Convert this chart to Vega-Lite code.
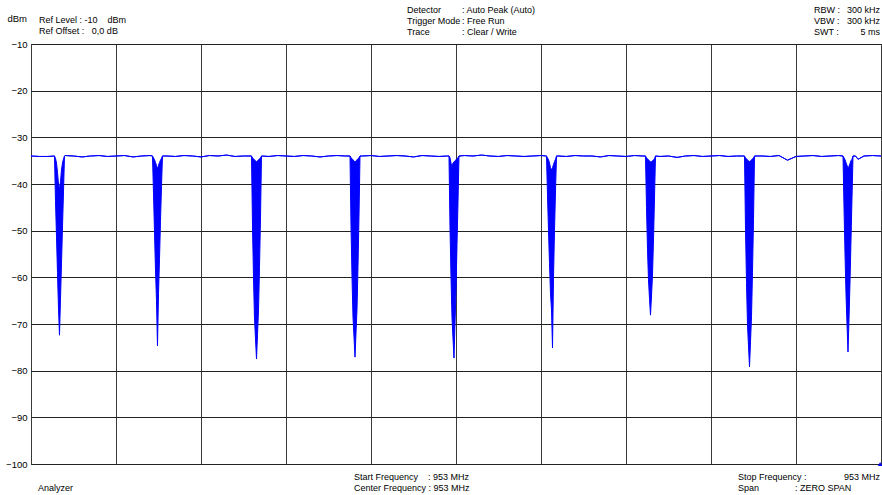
{
  "$schema": "https://vega.github.io/schema/vega-lite/v6.json",
  "width": 850,
  "height": 420,
  "autosize": {"type": "none"},
  "padding": {"left": 31, "top": 44, "right": 1, "bottom": 31},
  "background": "white",
  "config": {
    "view": {"stroke": "#333333", "strokeWidth": 1},
    "axis": {"labelFont": "Liberation Sans", "labelFontSize": 9.5, "labelColor": "black"},
    "text": {"font": "Liberation Sans", "fontSize": 9, "color": "black"}
  },
  "datasets": {
    "trace": [
      {"t":0.00,"hi":-34.0,"lo":-34.0},{"t":0.05,"hi":-34.1,"lo":-34.1},{"t":0.10,"hi":-34.1,"lo":-34.1},
      {"t":0.1382,"hi":-34.0,"lo":-34.0},{"t":0.1441,"hi":-34.5,"lo":-43.6},{"t":0.1500,"hi":-35.5,"lo":-51.3},{"t":0.1558,"hi":-37.5,"lo":-59.0},{"t":0.1617,"hi":-40.0,"lo":-66.6},{"t":0.1676,"hi":-41.0,"lo":-72.4},{"t":0.1735,"hi":-39.5,"lo":-64.7},{"t":0.1794,"hi":-37.0,"lo":-57.0},{"t":0.1852,"hi":-35.5,"lo":-49.4},{"t":0.1911,"hi":-34.6,"lo":-41.7},{"t":0.1970,"hi":-34.0,"lo":-34.0},
      {"t":0.20,"hi":-33.9,"lo":-33.9},{"t":0.25,"hi":-34.0,"lo":-34.0},{"t":0.30,"hi":-34.2,"lo":-34.2},{"t":0.35,"hi":-34.0,"lo":-34.0},{"t":0.40,"hi":-33.9,"lo":-33.9},{"t":0.45,"hi":-34.1,"lo":-34.1},{"t":0.50,"hi":-34.0,"lo":-34.0},{"t":0.55,"hi":-33.9,"lo":-33.9},{"t":0.60,"hi":-34.2,"lo":-34.2},{"t":0.65,"hi":-34.0,"lo":-34.0},{"t":0.70,"hi":-33.9,"lo":-33.9},
      {"t":0.7147,"hi":-34.0,"lo":-34.0},{"t":0.7206,"hi":-34.4,"lo":-42.1},{"t":0.7265,"hi":-34.8,"lo":-50.3},{"t":0.7323,"hi":-35.4,"lo":-58.4},{"t":0.7382,"hi":-36.0,"lo":-65.0},{"t":0.7441,"hi":-36.8,"lo":-74.7},{"t":0.7500,"hi":-36.0,"lo":-63.5},{"t":0.7559,"hi":-35.4,"lo":-56.0},{"t":0.7617,"hi":-34.9,"lo":-48.0},{"t":0.7676,"hi":-34.5,"lo":-40.5},{"t":0.7735,"hi":-34.0,"lo":-34.0},
      {"t":0.80,"hi":-34.0,"lo":-34.0},{"t":0.85,"hi":-34.1,"lo":-34.1},{"t":0.90,"hi":-33.9,"lo":-33.9},{"t":0.95,"hi":-34.0,"lo":-34.0},{"t":1.00,"hi":-34.2,"lo":-34.2},{"t":1.05,"hi":-33.9,"lo":-33.9},{"t":1.10,"hi":-34.0,"lo":-34.0},{"t":1.15,"hi":-33.8,"lo":-33.8},{"t":1.20,"hi":-34.1,"lo":-34.1},{"t":1.25,"hi":-34.0,"lo":-34.0},
      {"t":1.2971,"hi":-34.0,"lo":-34.0},{"t":1.3030,"hi":-34.4,"lo":-49.2},{"t":1.3089,"hi":-34.6,"lo":-60.1},{"t":1.3147,"hi":-34.8,"lo":-68.8},{"t":1.3206,"hi":-35.0,"lo":-73.2},{"t":1.3265,"hi":-35.3,"lo":-77.5},{"t":1.3324,"hi":-35.0,"lo":-72.3},{"t":1.3383,"hi":-34.8,"lo":-67.1},{"t":1.3441,"hi":-34.6,"lo":-57.9},{"t":1.3500,"hi":-34.4,"lo":-47.1},{"t":1.3559,"hi":-34.0,"lo":-34.0},
      {"t":1.40,"hi":-34.1,"lo":-34.1},{"t":1.45,"hi":-33.9,"lo":-33.9},{"t":1.50,"hi":-34.0,"lo":-34.0},{"t":1.55,"hi":-34.1,"lo":-34.1},{"t":1.60,"hi":-33.9,"lo":-33.9},{"t":1.65,"hi":-34.0,"lo":-34.0},{"t":1.70,"hi":-34.2,"lo":-34.2},{"t":1.75,"hi":-34.0,"lo":-34.0},{"t":1.80,"hi":-33.9,"lo":-33.9},{"t":1.85,"hi":-34.0,"lo":-34.0},
      {"t":1.8765,"hi":-34.0,"lo":-34.0},{"t":1.8824,"hi":-34.4,"lo":-49.1},{"t":1.8883,"hi":-34.6,"lo":-59.9},{"t":1.8941,"hi":-34.8,"lo":-68.5},{"t":1.9000,"hi":-35.0,"lo":-72.8},{"t":1.9059,"hi":-35.3,"lo":-77.1},{"t":1.9118,"hi":-35.0,"lo":-71.9},{"t":1.9177,"hi":-34.8,"lo":-66.8},{"t":1.9235,"hi":-34.6,"lo":-57.7},{"t":1.9294,"hi":-34.4,"lo":-46.9},{"t":1.9353,"hi":-34.0,"lo":-34.0},
      {"t":1.95,"hi":-34.0,"lo":-34.0},{"t":2.00,"hi":-33.9,"lo":-33.9},{"t":2.05,"hi":-34.1,"lo":-34.1},{"t":2.10,"hi":-34.0,"lo":-34.0},{"t":2.15,"hi":-33.9,"lo":-33.9},{"t":2.20,"hi":-34.0,"lo":-34.0},{"t":2.25,"hi":-34.2,"lo":-34.2},{"t":2.30,"hi":-33.9,"lo":-33.9},{"t":2.35,"hi":-34.0,"lo":-34.0},{"t":2.40,"hi":-34.1,"lo":-34.1},{"t":2.45,"hi":-34.0,"lo":-34.0},
      {"t":2.4588,"hi":-34.0,"lo":-34.0},{"t":2.4647,"hi":-34.4,"lo":-49.2},{"t":2.4706,"hi":-35.5,"lo":-60.0},{"t":2.4764,"hi":-36.5,"lo":-68.6},{"t":2.4823,"hi":-35.5,"lo":-73.0},{"t":2.4882,"hi":-35.3,"lo":-77.3},{"t":2.4941,"hi":-35.0,"lo":-70.0},{"t":2.5000,"hi":-34.8,"lo":-63.0},{"t":2.5058,"hi":-34.6,"lo":-53.0},{"t":2.5117,"hi":-34.4,"lo":-44.0},{"t":2.5176,"hi":-34.0,"lo":-34.0},
      {"t":2.55,"hi":-33.9,"lo":-33.9},{"t":2.60,"hi":-34.0,"lo":-34.0},{"t":2.65,"hi":-33.8,"lo":-33.8},{"t":2.70,"hi":-34.0,"lo":-34.0},{"t":2.75,"hi":-34.1,"lo":-34.1},{"t":2.80,"hi":-33.9,"lo":-33.9},{"t":2.85,"hi":-34.0,"lo":-34.0},{"t":2.90,"hi":-34.1,"lo":-34.1},{"t":2.95,"hi":-34.0,"lo":-34.0},{"t":3.00,"hi":-33.9,"lo":-33.9},
      {"t":3.0324,"hi":-34.0,"lo":-34.0},{"t":3.0383,"hi":-34.4,"lo":-42.5},{"t":3.0442,"hi":-34.8,"lo":-50.0},{"t":3.0500,"hi":-35.5,"lo":-57.0},{"t":3.0559,"hi":-36.5,"lo":-63.5},{"t":3.0618,"hi":-37.0,"lo":-67.0},{"t":3.0677,"hi":-36.5,"lo":-75.1},{"t":3.0736,"hi":-35.8,"lo":-60.0},{"t":3.0794,"hi":-35.2,"lo":-50.0},{"t":3.0853,"hi":-34.7,"lo":-41.5},{"t":3.0912,"hi":-34.0,"lo":-34.0},
      {"t":3.10,"hi":-34.0,"lo":-34.0},{"t":3.15,"hi":-34.1,"lo":-34.1},{"t":3.20,"hi":-33.9,"lo":-33.9},{"t":3.25,"hi":-34.0,"lo":-34.0},{"t":3.30,"hi":-34.0,"lo":-34.0},{"t":3.35,"hi":-34.2,"lo":-34.2},{"t":3.40,"hi":-33.9,"lo":-33.9},{"t":3.45,"hi":-34.0,"lo":-34.0},{"t":3.50,"hi":-34.1,"lo":-34.1},{"t":3.55,"hi":-33.9,"lo":-33.9},{"t":3.60,"hi":-34.0,"lo":-34.0},
      {"t":3.6147,"hi":-34.0,"lo":-34.0},{"t":3.6206,"hi":-34.4,"lo":-45.0},{"t":3.6265,"hi":-34.6,"lo":-54.0},{"t":3.6323,"hi":-34.8,"lo":-60.5},{"t":3.6382,"hi":-35.0,"lo":-64.5},{"t":3.6441,"hi":-35.3,"lo":-68.1},{"t":3.6500,"hi":-35.2,"lo":-64.0},{"t":3.6559,"hi":-35.0,"lo":-59.5},{"t":3.6617,"hi":-34.8,"lo":-52.0},{"t":3.6676,"hi":-34.6,"lo":-43.0},{"t":3.6735,"hi":-34.0,"lo":-34.0},
      {"t":3.70,"hi":-34.1,"lo":-34.1},{"t":3.75,"hi":-34.0,"lo":-34.0},{"t":3.80,"hi":-34.3,"lo":-34.3},{"t":3.85,"hi":-34.0,"lo":-34.0},{"t":3.90,"hi":-33.9,"lo":-33.9},{"t":3.95,"hi":-34.1,"lo":-34.1},{"t":4.00,"hi":-34.0,"lo":-34.0},{"t":4.05,"hi":-33.9,"lo":-33.9},{"t":4.10,"hi":-34.1,"lo":-34.1},{"t":4.15,"hi":-34.0,"lo":-34.0},
      {"t":4.1971,"hi":-34.0,"lo":-34.0},{"t":4.2030,"hi":-34.4,"lo":-49.8},{"t":4.2089,"hi":-34.6,"lo":-61.1},{"t":4.2147,"hi":-34.8,"lo":-70.2},{"t":4.2206,"hi":-35.0,"lo":-74.7},{"t":4.2265,"hi":-35.3,"lo":-79.2},{"t":4.2324,"hi":-35.0,"lo":-73.8},{"t":4.2383,"hi":-34.8,"lo":-68.4},{"t":4.2441,"hi":-34.6,"lo":-58.9},{"t":4.2500,"hi":-34.4,"lo":-47.6},{"t":4.2559,"hi":-34.0,"lo":-34.0},
      {"t":4.30,"hi":-34.0,"lo":-34.0},{"t":4.35,"hi":-34.1,"lo":-34.1},{"t":4.40,"hi":-33.9,"lo":-33.9},{"t":4.45,"hi":-34.9,"lo":-34.9},{"t":4.50,"hi":-34.1,"lo":-34.1},{"t":4.55,"hi":-34.0,"lo":-34.0},{"t":4.60,"hi":-33.9,"lo":-33.9},{"t":4.65,"hi":-34.1,"lo":-34.1},{"t":4.70,"hi":-34.0,"lo":-34.0},{"t":4.75,"hi":-33.9,"lo":-33.9},
      {"t":4.7765,"hi":-34.0,"lo":-34.0},{"t":4.7824,"hi":-34.4,"lo":-45.0},{"t":4.7883,"hi":-34.8,"lo":-55.0},{"t":4.7941,"hi":-35.4,"lo":-63.5},{"t":4.8000,"hi":-36.0,"lo":-70.0},{"t":4.8059,"hi":-36.5,"lo":-76.0},{"t":4.8118,"hi":-36.2,"lo":-69.0},{"t":4.8177,"hi":-35.6,"lo":-61.0},{"t":4.8235,"hi":-35.0,"lo":-52.0},{"t":4.8294,"hi":-34.7,"lo":-43.0},{"t":4.8353,"hi":-34.0,"lo":-34.0},
      {"t":4.85,"hi":-34.0,"lo":-34.0},{"t":4.865,"hi":-34.7,"lo":-34.7},{"t":4.90,"hi":-34.0,"lo":-34.0},{"t":4.95,"hi":-33.9,"lo":-33.9},{"t":5.00,"hi":-34.0,"lo":-34.0}
    ]
  },
  "layer": [
    {
      "data": {"name": "trace"},
      "mark": {"type": "area", "color": "#0000ff", "opacity": 1, "clip": true},
      "encoding": {
        "x": {"field": "t", "type": "quantitative",
              "scale": {"domain": [0, 5], "nice": false, "zero": false},
              "axis": {"values": [0, 0.5, 1, 1.5, 2, 2.5, 3, 3.5, 4, 4.5, 5], "labels": false, "ticks": false, "domain": false, "grid": true, "gridColor": "#3a3a3a", "gridOpacity": 1, "gridWidth": 1, "title": null}},
        "y": {"field": "lo", "type": "quantitative",
              "scale": {"domain": [-100, -10], "nice": false, "zero": false},
              "axis": {"values": [-10, -20, -30, -40, -50, -60, -70, -80, -90, -100], "ticks": false, "domain": false, "grid": true, "gridColor": "#222222", "gridOpacity": 1, "gridWidth": 1, "labelPadding": 4, "title": null}},
        "y2": {"field": "hi"}
      }
    },
    {
      "data": {"name": "trace"},
      "mark": {"type": "line", "color": "#0000ff", "strokeWidth": 1, "clip": true},
      "encoding": {
        "x": {"field": "t", "type": "quantitative"},
        "y": {"field": "lo", "type": "quantitative"}
      }
    },
    {
      "data": {"name": "trace"},
      "mark": {"type": "line", "color": "#0000ff", "strokeWidth": 1, "clip": true},
      "encoding": {
        "x": {"field": "t", "type": "quantitative"},
        "y": {"field": "hi", "type": "quantitative"}
      }
    },
    {
      "data": {"values": [{"label": "dBm"}]},
      "mark": {"type": "text", "align": "right", "baseline": "middle", "fontSize": 9.5},
      "encoding": {"text": {"field": "label"}, "x": {"datum": -0.0235}, "y": {"datum": -4.686}}
    },
    {
      "data": {"values": [{"label": "Ref Level : -10\u00a0\u00a0\u00a0\u00a0dBm\nRef Offset :\u00a0\u00a0 0,0 dB"}]},
      "mark": {"type": "text", "align": "left", "baseline": "middle", "lineBreak": "\n", "lineHeight": 11},
      "encoding": {"text": {"field": "label"}, "x": {"datum": 0.0471}, "y": {"datum": -4.9}}
    },
    {
      "data": {"values": [{"label": "Detector\nTrigger Mode\nTrace"}]},
      "mark": {"type": "text", "align": "left", "baseline": "middle", "lineBreak": "\n", "lineHeight": 11},
      "encoding": {"text": {"field": "label"}, "x": {"datum": 2.2118}, "y": {"datum": -2.65}}
    },
    {
      "data": {"values": [{"label": ": Auto Peak (Auto)\n: Free Run\n: Clear / Write"}]},
      "mark": {"type": "text", "align": "left", "baseline": "middle", "lineBreak": "\n", "lineHeight": 11},
      "encoding": {"text": {"field": "label"}, "x": {"datum": 2.5353}, "y": {"datum": -2.65}}
    },
    {
      "data": {"values": [{"label": "RBW :\nVBW :\nSWT :"}]},
      "mark": {"type": "text", "align": "left", "baseline": "middle", "lineBreak": "\n", "lineHeight": 11},
      "encoding": {"text": {"field": "label"}, "x": {"datum": 4.6059}, "y": {"datum": -2.65}}
    },
    {
      "data": {"values": [{"label": "300 kHz\n300 kHz\n5 ms"}]},
      "mark": {"type": "text", "align": "right", "baseline": "middle", "lineBreak": "\n", "lineHeight": 11},
      "encoding": {"text": {"field": "label"}, "x": {"datum": 4.9941}, "y": {"datum": -2.65}}
    },
    {
      "data": {"values": [{"label": "Analyzer"}]},
      "mark": {"type": "text", "align": "left", "baseline": "middle"},
      "encoding": {"text": {"field": "label"}, "x": {"datum": 0.0412}, "y": {"datum": -105.19}}
    },
    {
      "data": {"values": [{"label": "Start Frequency\u00a0\u00a0\u00a0 : 953 MHz\nCenter Frequency : 953 MHz"}]},
      "mark": {"type": "text", "align": "left", "baseline": "middle", "lineBreak": "\n", "lineHeight": 11},
      "encoding": {"text": {"field": "label"}, "x": {"datum": 1.9}, "y": {"datum": -102.83}}
    },
    {
      "data": {"values": [{"label": "Stop Frequency :\nSpan"}]},
      "mark": {"type": "text", "align": "left", "baseline": "middle", "lineBreak": "\n", "lineHeight": 11},
      "encoding": {"text": {"field": "label"}, "x": {"datum": 4.1588}, "y": {"datum": -102.83}}
    },
    {
      "data": {"values": [{"label": "953 MHz"}]},
      "mark": {"type": "text", "align": "right", "baseline": "middle"},
      "encoding": {"text": {"field": "label"}, "x": {"datum": 4.9941}, "y": {"datum": -102.83}}
    },
    {
      "data": {"values": [{"label": ": ZERO SPAN"}]},
      "mark": {"type": "text", "align": "left", "baseline": "middle"},
      "encoding": {"text": {"field": "label"}, "x": {"datum": 4.4941}, "y": {"datum": -105.19}}
    },
    {
      "data": {"values": [{"marker": "end"}]},
      "mark": {"type": "point", "shape": "triangle-up", "filled": true, "color": "#0000ff", "size": 20, "opacity": 1},
      "encoding": {"x": {"datum": 4.995}, "y": {"datum": -100}}
    }
  ]
}
